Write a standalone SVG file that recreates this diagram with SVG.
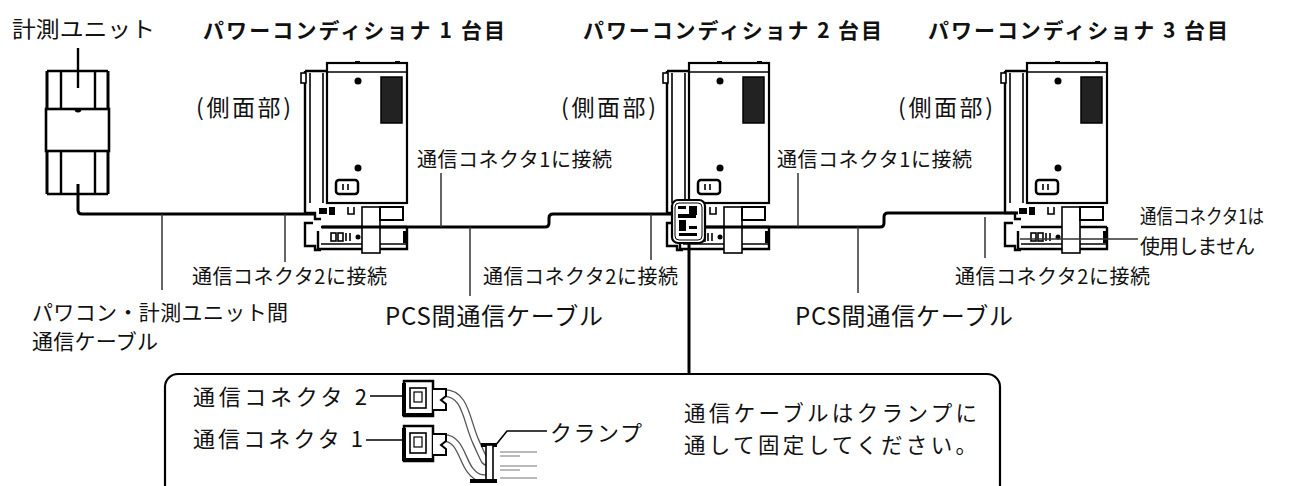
<svg xmlns="http://www.w3.org/2000/svg" xmlns:xlink="http://www.w3.org/1999/xlink" width="1300" height="486" viewBox="0 0 1300 486">
<style>
  text { font-family: "Noto Sans CJK JP", "Noto Sans", sans-serif; fill: #111; }
  .t20 { font-size: 20px; }
  .t21 { font-size: 21px; }
  .t22 { font-size: 22px; }
  .t23 { font-size: 23px; }
  .note { font-size: 21.5px; }
  .title { font-size: 21px; font-weight: 700; }
  .pcsl { font-size: 24px; }
  .ln { fill: none; stroke: #000; stroke-width: 1.6; }
  .ln2 { fill: none; stroke: #000; stroke-width: 2.4; }
  .cable { fill: none; stroke: #000; stroke-width: 3; stroke-linejoin: round; }
  .lead { fill: none; stroke: #333; stroke-width: 1.5; }
  .blk { fill: #000; }
  .wht { fill: #fff; stroke: #000; stroke-width: 1.6; }
  .thin { fill: none; stroke: #777; stroke-width: 1.2; }
</style>
<defs>
  <!-- power conditioner, side view; origin = top-left of main housing -->
  <g id="pcsBody">
    <!-- side panel -->
    <path class="ln2" d="M-22,8 H0 M-22,8 V144"/>
    <path class="ln" d="M-17,10 V140 M-4,10 V140"/>
    <rect class="wht" x="-26" y="10" width="5" height="10"/>
    <!-- main housing -->
    <rect x="0" y="0" width="80" height="140" fill="#fff" stroke="#000" stroke-width="2.2"/>
    <path class="ln" d="M0,9 H80"/>
    <rect class="blk" x="28" y="-2" width="5" height="2"/>
    <rect class="blk" x="68" y="-2" width="5" height="2"/>
    <rect x="54" y="14" width="21" height="46" fill="#222" stroke="#000" stroke-width="1.5"/>
    <circle class="blk" cx="31" cy="18" r="3.5"/>
    <circle class="blk" cx="31" cy="105" r="3.5"/>
    <rect x="9" y="117" width="22" height="14" rx="3" fill="#fff" stroke="#000" stroke-width="2.5"/>
    <path class="ln" d="M16,121 V127 M21,121 V127"/>
    <!-- lower section -->
    <path class="ln2" d="M-22,144 V150 H-12 V156 H-6"/>
    <path class="ln2" d="M-14,160 H-22 V183 H-12 V187 H-6"/>
    <rect class="blk" x="-8" y="145" width="8" height="6"/>
    <rect class="blk" x="2" y="144" width="6" height="8"/>
    <path class="ln" d="M21,144 V151 H27 V144"/>
    <path class="ln2" d="M-6,164 H80"/>
    <path class="ln2" d="M-9,168 V186 H80 V164"/>
    <path class="ln" d="M-6,181 H80"/>
    <rect class="wht" x="4" y="170" width="5" height="8"/>
    <rect class="wht" x="11" y="170" width="5" height="8"/>
    <path class="ln" d="M19,170 V178 M23,170 V178"/>
    <circle class="blk" cx="31" cy="174" r="2.5"/>
    <rect class="wht" x="35" y="144" width="18" height="46"/>
    <rect x="53" y="144" width="23" height="13" fill="#fff" stroke="#000" stroke-width="2"/>
    <rect class="blk" x="76" y="168" width="4" height="12"/>
  </g>
  <!-- communication connector -->
  <g id="conn">
    <rect x="0" y="1" width="29" height="35" fill="#fff" stroke="#000" stroke-width="2.5"/>
    <rect class="blk" x="-2" y="3" width="4" height="33"/>
    <rect class="blk" x="0" y="33" width="29" height="4"/>
    <rect class="wht" x="6" y="8" width="16" height="20"/>
    <rect x="10" y="12" width="8" height="10" fill="none" stroke="#000" stroke-width="1.2"/>
    <path d="M29,9 H42 V16 L37,20 L42,24 V30 H29" fill="#fff" stroke="#000" stroke-width="2"/>
  </g>
</defs>

<!-- measurement unit -->
<g id="meter">
  <path d="M78,48 V88" class="ln2"/>
  <path d="M47,71 H108 M47,194 H108" stroke="#000" stroke-width="2.6" fill="none"/>
  <path d="M47,71 V109 M108,71 V109 M47,151 V194 M108,151 V194" stroke="#000" stroke-width="3" fill="none"/>
  <path d="M61,71 V109 M95,71 V109 M61,151 V194 M95,151 V194" class="ln2"/>
  <rect x="46" y="109" width="63" height="42" fill="#fff" stroke="#000" stroke-width="2.6"/>
  <path d="M74.5,109 A3.5,3.5 0 0 0 81.5,109 Z" class="blk"/>
  <text class="t22" x="12" y="37" textLength="143" lengthAdjust="spacingAndGlyphs">計測ユニット</text>
</g>

<!-- power conditioner 1 -->
<g id="pcs1">
  <use xlink:href="#pcsBody" href="#pcsBody" transform="translate(327,63)"/>
  <text class="title" x="203" y="38" textLength="302">パワーコンディショナ 1 台目</text>
  <text class="t23" x="196" y="116" textLength="95">(側面部)</text>
</g>

<!-- power conditioner 2 -->
<g id="pcs2">
  <use xlink:href="#pcsBody" href="#pcsBody" transform="translate(689,63)"/>
  <rect x="672" y="200" width="33" height="43" rx="6" fill="#fff" stroke="#000" stroke-width="2.2"/>
  <rect x="675" y="203" width="27" height="37" rx="4" fill="none" stroke="#000" stroke-width="1"/>
  <rect class="blk" x="678" y="206" width="8" height="3"/>
  <rect class="blk" x="689" y="206" width="8" height="9"/>
  <rect class="blk" x="678" y="214" width="18" height="4"/>
  <rect class="blk" x="679" y="220" width="7" height="11"/>
  <rect class="blk" x="689" y="226" width="8" height="3"/>
  <rect class="blk" x="679" y="233" width="18" height="3"/>
  <text class="title" x="583" y="38" textLength="299">パワーコンディショナ 2 台目</text>
  <text class="t23" x="561" y="116" textLength="95">(側面部)</text>
</g>

<!-- power conditioner 3 -->
<g id="pcs3">
  <use xlink:href="#pcsBody" href="#pcsBody" transform="translate(1027,63)"/>
  <text class="title" x="928" y="38" textLength="300">パワーコンディショナ 3 台目</text>
  <text class="t23" x="898" y="116" textLength="95">(側面部)</text>
</g>

<!-- cables and leader lines -->
<g id="connectors">
  <path class="cable" d="M78,184 V210 Q78,214 82,214 H316"/>
  <path class="cable" d="M322,227 H545 Q549,227 549,223 V218 Q549,214 553,214 H672"/>
  <path class="cable" d="M705,227 H880 Q884,227 884,223 V217 Q884,213 888,213 H1018"/>
  <path class="cable" d="M689,243 V374"/>
  <path class="lead" d="M162,214 V290 M285,214 V262 M441,173 V227 M470,227 V296 M651,214 V260 M798,173 V227 M858,227 V293 M985,217 V258 M1020,239 H1138"/>
</g>

<!-- labels -->
<g id="labels">
  <text class="t20" x="417" y="167" textLength="195">通信コネクタ1に接続</text>
  <text class="t20" x="777" y="167" textLength="195">通信コネクタ1に接続</text>
  <text class="t20" x="192" y="284" textLength="195">通信コネクタ2に接続</text>
  <text class="t20" x="483" y="284" textLength="195">通信コネクタ2に接続</text>
  <text class="t20" x="955" y="284" textLength="195">通信コネクタ2に接続</text>
  <text class="t20" x="1140" y="224" textLength="124" lengthAdjust="spacingAndGlyphs">通信コネクタ1は</text>
  <text class="t20" x="1140" y="254" textLength="115">使用しません</text>
  <text class="t21" x="32" y="320" textLength="256">パワコン・計測ユニット間</text>
  <text class="t21" x="32" y="349" textLength="126">通信ケーブル</text>
  <text class="pcsl" x="385" y="325" textLength="218">PCS間通信ケーブル</text>
  <text class="pcsl" x="795" y="325" textLength="218">PCS間通信ケーブル</text>
</g>

<!-- clamp detail callout -->
<g id="detail">
  <rect x="165" y="374" width="835" height="124" rx="13" fill="none" stroke="#000" stroke-width="2.2"/>
  <text class="t22" x="193" y="405" textLength="174">通信コネクタ 2</text>
  <text class="t22" x="193" y="447" textLength="170">通信コネクタ 1</text>
  <path class="ln" d="M370,396 H403 M366,440 H403"/>
  <!-- cables to clamp -->
  <path d="M444,393 C466,393 466,420 476,442 S484,462 490,462" fill="none" stroke="#555" stroke-width="8"/>
  <path d="M444,393 C466,393 466,420 476,442 S484,462 490,462" fill="none" stroke="#fff" stroke-width="5.4"/>
  <path d="M444,438 C460,438 462,460 470,470 S482,478 490,478" fill="none" stroke="#555" stroke-width="8"/>
  <path d="M444,438 C460,438 462,460 470,470 S482,478 490,478" fill="none" stroke="#fff" stroke-width="5.4"/>
  <use xlink:href="#conn" href="#conn" transform="translate(404,380)"/>
  <use xlink:href="#conn" href="#conn" transform="translate(404,425)"/>
  <!-- clamp -->
  <rect class="blk" x="481" y="443" width="16" height="4"/>
  <rect class="wht" x="486" y="445" width="7" height="36"/>
  <rect class="blk" x="470" y="479" width="27" height="4"/>
  <path class="thin" d="M500,452 H537 M500,456 H520 M500,466 H537 M500,470 H520 M500,478 H537"/>
  <path class="ln" d="M495,446 L507,431 H547"/>
  <text class="t22" x="550" y="441" textLength="92">クランプ</text>
  <text class="note" x="684" y="421" textLength="293">通信ケーブルはクランプに</text>
  <text class="note" x="684" y="453" textLength="293">通して固定してください。</text>
</g>
</svg>
